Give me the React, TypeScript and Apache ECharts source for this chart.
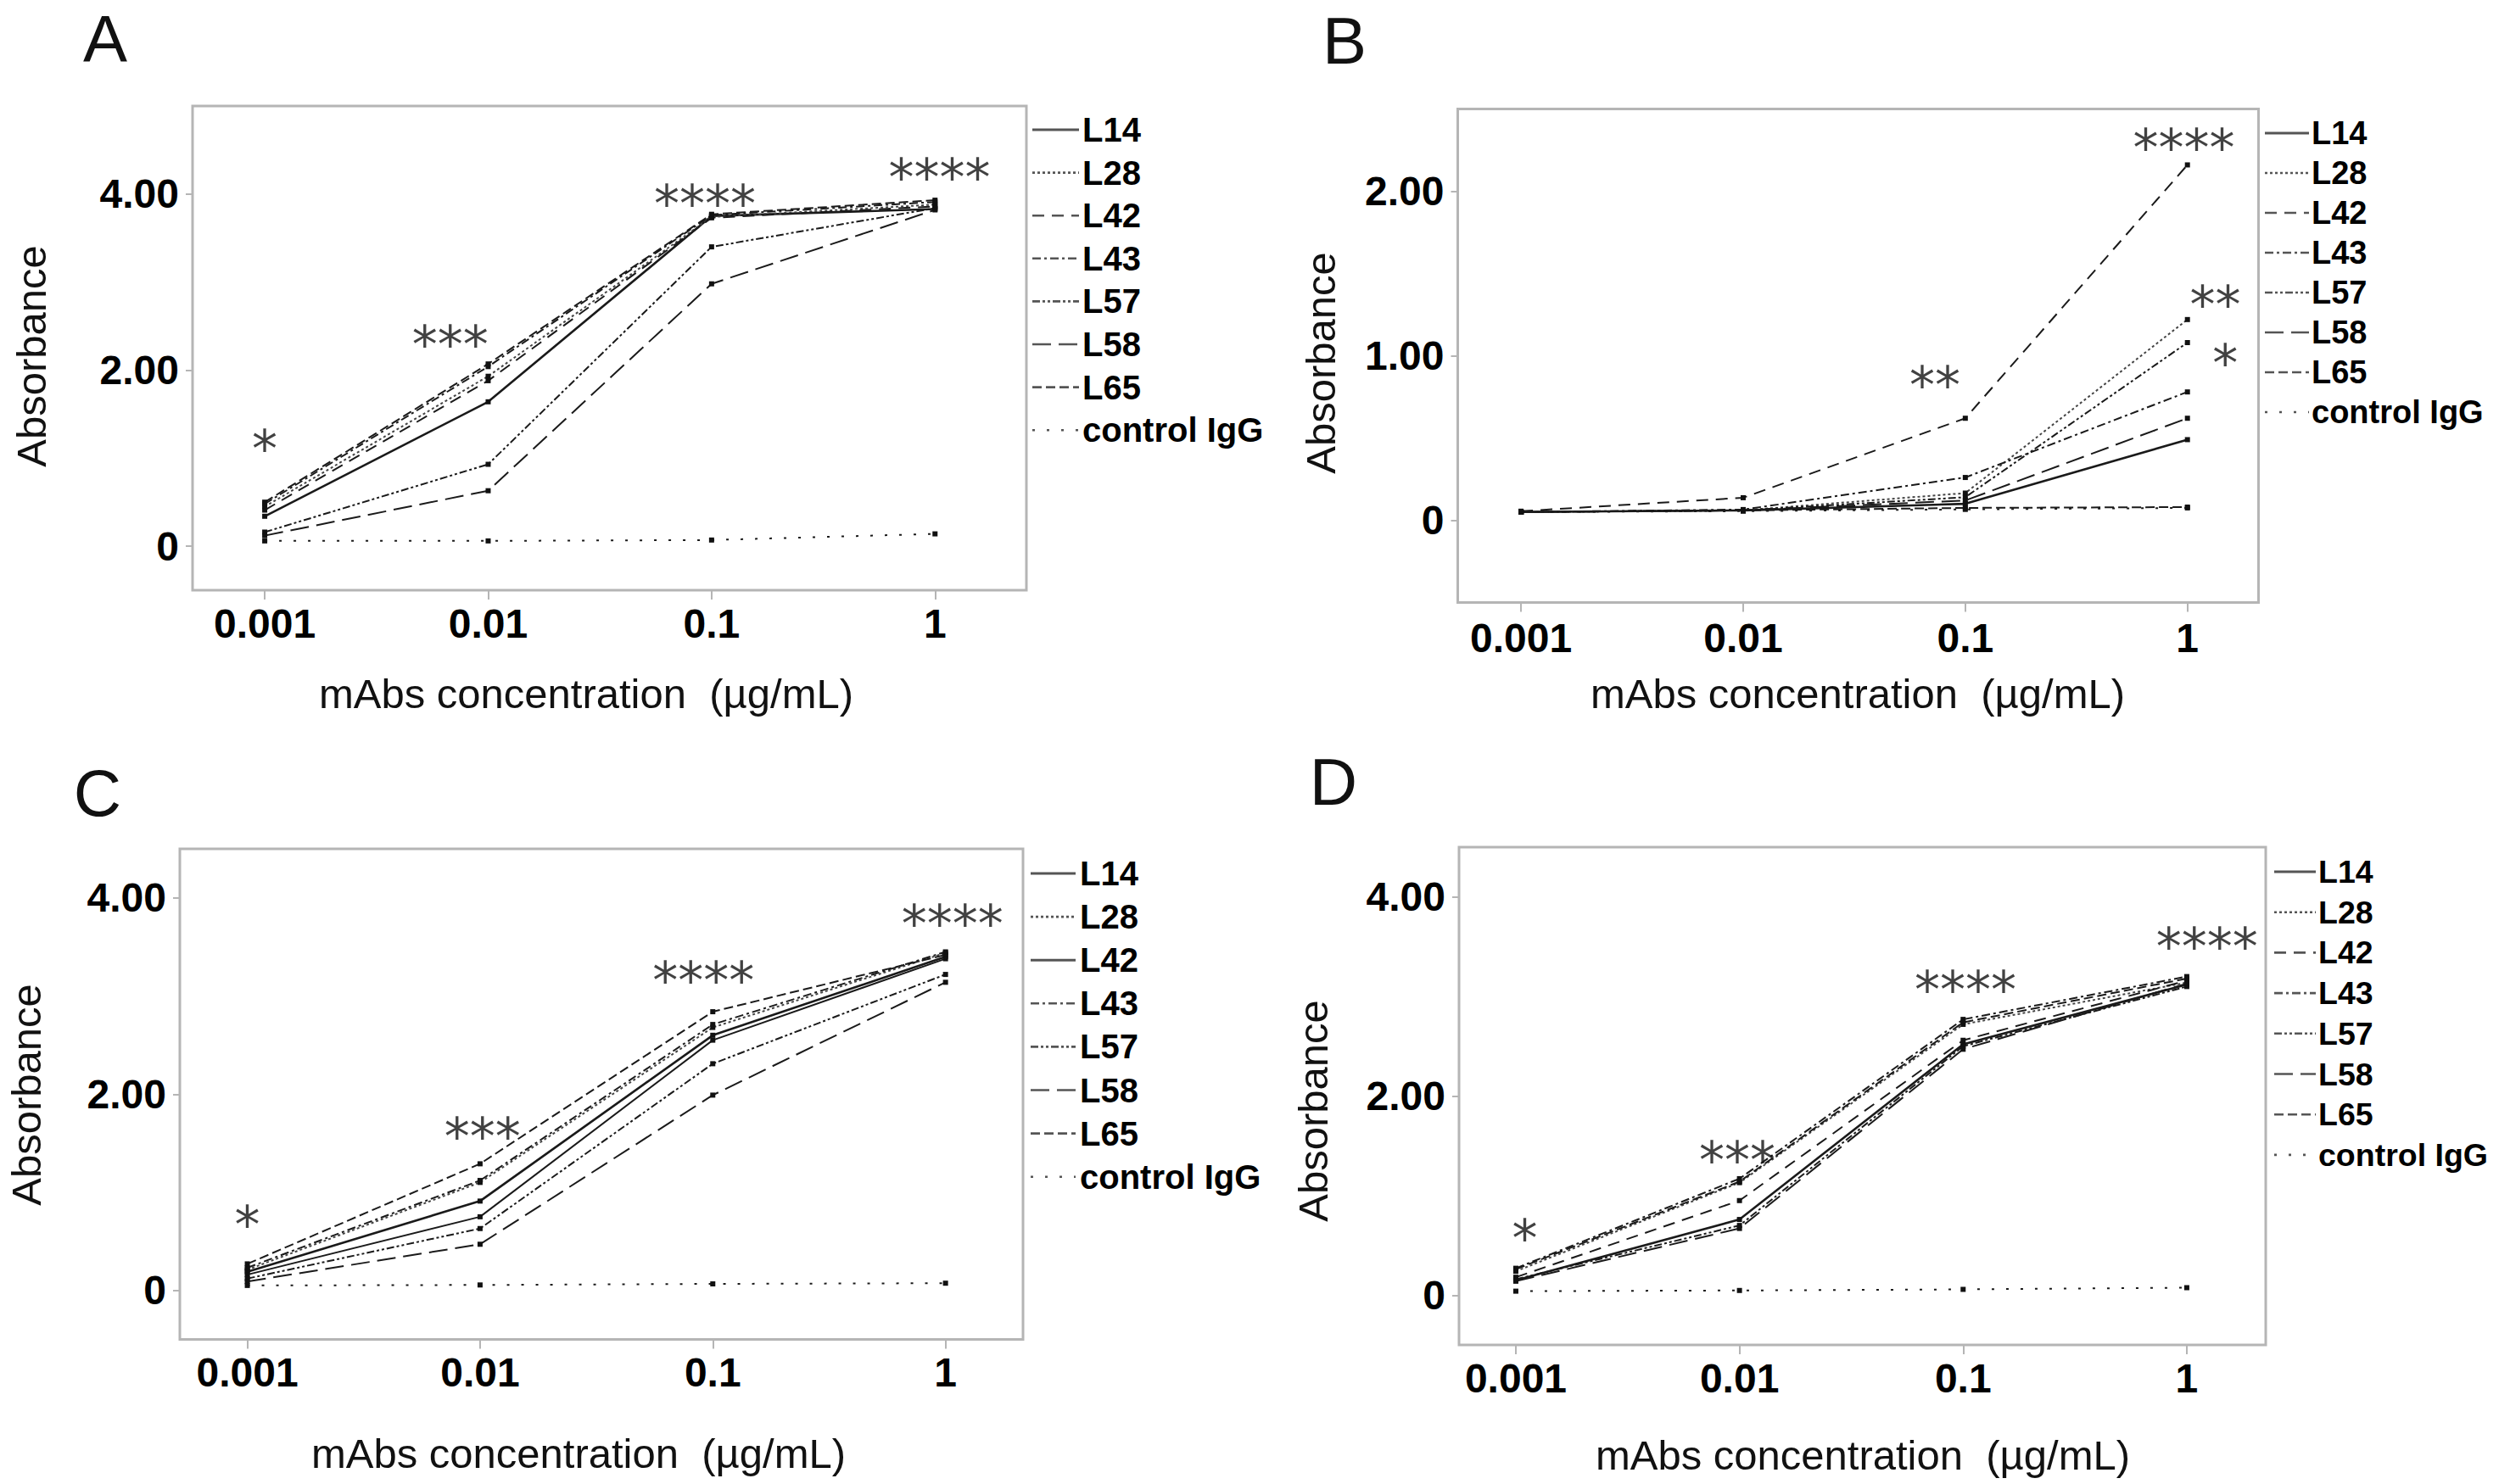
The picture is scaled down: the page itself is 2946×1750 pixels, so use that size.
import React, { useEffect, useRef } from "react";
import * as echarts from "echarts";

// ---------- data ----------
const concentrations = [0.001, 0.01, 0.1, 1];
const xTickLabels = ["0.001", "0.01", "0.1", "1"];
const seriesNames = ["L14", "L28", "L42", "L43", "L57", "L58", "L65", "control IgG"];

// rows follow seriesNames order; columns follow concentrations
const valuesA = [
  [0.34, 1.64, 3.75, 3.83],
  [0.45, 1.93, 3.74, 3.88],
  [0.41, 1.88, 3.73, 3.86],
  [0.48, 2.04, 3.76, 3.91],
  [0.16, 0.93, 3.4, 3.84],
  [0.12, 0.63, 2.98, 3.82],
  [0.5, 2.07, 3.77, 3.93],
  [0.06, 0.06, 0.07, 0.14],
];
const valuesB = [
  [0.05, 0.06, 0.1, 0.49],
  [0.05, 0.06, 0.165, 1.22],
  [0.055, 0.137, 0.62, 2.16],
  [0.05, 0.065, 0.26, 0.78],
  [0.05, 0.06, 0.14, 1.08],
  [0.05, 0.06, 0.12, 0.62],
  [0.05, 0.06, 0.075, 0.08],
  [0.05, 0.055, 0.066, 0.075],
];
const valuesC = [
  [0.19, 0.91, 2.6, 3.4],
  [0.21, 1.1, 2.68, 3.44],
  [0.16, 0.75, 2.55, 3.38],
  [0.23, 1.12, 2.71, 3.45],
  [0.12, 0.63, 2.31, 3.22],
  [0.09, 0.47, 1.99, 3.14],
  [0.27, 1.29, 2.84, 3.42],
  [0.05, 0.055, 0.066, 0.073],
];
const valuesD = [
  [0.15, 0.76, 2.52, 3.12],
  [0.24, 1.13, 2.72, 3.14],
  [0.18, 0.95, 2.56, 3.16],
  [0.27, 1.17, 2.77, 3.2],
  [0.16, 0.7, 2.5, 3.1],
  [0.14, 0.67, 2.47, 3.13],
  [0.26, 1.14, 2.74, 3.18],
  [0.04, 0.047, 0.058, 0.075],
];

const yTicksA = [0, 2, 4];
const yTicksB = [0, 1, 2];
const yTicksC = [0, 2, 4];
const yTicksD = [0, 2, 4];

// significance marks: [log10 position, absorbance, text]
const annotA: [number, number, string][] = [
  [-3.0, 1.24, "*"],
  [-2.17, 2.43, "***"],
  [-1.03, 4.03, "****"],
  [0.02, 4.33, "****"],
];
const annotB: [number, number, string][] = [
  [-1.137, 0.896, "**"],
  [-0.016, 2.34, "****"],
  [0.125, 1.385, "**"],
  [0.17, 1.03, "*"],
];
const annotC: [number, number, string][] = [
  [-3.0, 0.79, "*"],
  [-1.99, 1.69, "***"],
  [-1.04, 3.28, "****"],
  [0.03, 3.86, "****"],
];
const annotD: [number, number, string][] = [
  [-2.96, 0.69, "*"],
  [-2.01, 1.48, "***"],
  [-0.99, 3.19, "****"],
  [0.09, 3.62, "****"],
];

// ---------- styles ----------
type Dash = "solid" | number[];
const dashDefault: Dash[] = [
  "solid",
  [3, 3],
  [14, 9],
  [10, 4, 3, 4],
  [9, 3, 3, 3, 3, 3],
  [22, 9],
  [11, 5],
  [3, 14],
];
const dashC: Dash[] = [
  "solid",
  [3, 3],
  "solid",
  [10, 4, 3, 4],
  [9, 3, 3, 3, 3, 3],
  [22, 9],
  [11, 5],
  [3, 14],
];
const widths = [2.6, 2, 2, 2, 2, 2, 2, 2];

const FONT = '"Liberation Sans", Arial, sans-serif';

const panels = [
  {
    letter: "A",
    grid: { left: 227, top: 125, width: 983, height: 571 },
    xMin: -3.323, xMax: 0.409, yMin: -0.5, yMax: 5,
    yTicks: yTicksA, values: valuesA, annots: annotA, dashes: dashDefault,
    legend: { x0: 1217, x1: 1272, tx: 1276, y0: 153, pitch: 50.6, fs: 40 },
    letterPos: [124, 46], yTitle: [37, 420], xTitle: [691, 818], xMargin: 15,
  },
  {
    letter: "B",
    grid: { left: 1718.5, top: 128.5, width: 944, height: 582 },
    xMin: -3.285, xMax: 0.32, yMin: -0.5, yMax: 2.5,
    yTicks: yTicksB, values: valuesB, annots: annotB, dashes: dashDefault,
    legend: { x0: 2670, x1: 2722, tx: 2725, y0: 157, pitch: 47, fs: 38 },
    letterPos: [1585, 48], yTitle: [1557, 428], xTitle: [2190, 818], xMargin: 18,
  },
  {
    letter: "C",
    grid: { left: 212, top: 1001, width: 994, height: 578.5 },
    xMin: -3.29, xMax: 0.333, yMin: -0.5, yMax: 4.5,
    yTicks: yTicksC, values: valuesC, annots: annotC, dashes: dashC,
    legend: { x0: 1215, x1: 1268, tx: 1273, y0: 1030, pitch: 51.1, fs: 40 },
    letterPos: [115, 935], yTitle: [31, 1291], xTitle: [682, 1714], xMargin: 15,
  },
  {
    letter: "D",
    grid: { left: 1720, top: 999, width: 951, height: 587 },
    xMin: -3.254, xMax: 0.353, yMin: -0.5, yMax: 4.5,
    yTicks: yTicksD, values: valuesD, annots: annotD, dashes: dashDefault,
    legend: { x0: 2681, x1: 2730, tx: 2733, y0: 1028, pitch: 47.7, fs: 37.5 },
    letterPos: [1572, 922], yTitle: [1548, 1310], xTitle: [2196, 1716], xMargin: 15,
  },
];

const xLabel = (v: number) => {
  const i = concentrations.findIndex((c) => Math.abs(Math.log10(c) - v) < 1e-6);
  return i >= 0 ? xTickLabels[i] : "";
};

function buildOption() {
  const grid: any[] = [];
  const xAxis: any[] = [];
  const yAxis: any[] = [];
  const series: any[] = [];
  const graphic: any[] = [];
  const xTickVals = concentrations.map((c) => Math.log10(c));

  panels.forEach((p, gi) => {
    grid.push({
      ...p.grid,
      show: true,
      borderColor: "#b5b5b5",
      borderWidth: 3,
      backgroundColor: "transparent",
    });
    xAxis.push({
      type: "value",
      gridIndex: gi,
      min: p.xMin,
      max: p.xMax,
      axisLine: { show: false, onZero: false },
      splitLine: { show: false },
      axisTick: {
        show: true,
        customValues: xTickVals,
        length: 11,
        lineStyle: { color: "#b5b5b5", width: 2 },
      },
      axisLabel: {
        customValues: xTickVals,
        formatter: xLabel,
        margin: p.xMargin,
        fontFamily: FONT,
        fontWeight: "bold",
        fontSize: 48,
        color: "#000",
      },
    });
    yAxis.push({
      type: "value",
      gridIndex: gi,
      min: p.yMin,
      max: p.yMax,
      axisLine: { show: false, onZero: false },
      splitLine: { show: false },
      axisTick: {
        show: true,
        customValues: p.yTicks,
        length: 8,
        lineStyle: { color: "#b5b5b5", width: 2 },
      },
      axisLabel: {
        customValues: p.yTicks,
        formatter: (v: number) => (v === 0 ? "0" : v.toFixed(2)),
        margin: 16,
        fontFamily: FONT,
        fontWeight: "bold",
        fontSize: 48,
        color: "#000",
      },
    });

    p.values.forEach((vals, si) => {
      const dash = p.dashes[si];
      series.push({
        type: "line",
        name: seriesNames[si],
        xAxisIndex: gi,
        yAxisIndex: gi,
        data: concentrations.map((c, k) => [Math.log10(c), vals[k]]),
        symbol: "rect",
        symbolSize: 6,
        itemStyle: { color: "#111" },
        lineStyle: {
          color: si === 1 ? "#444" : "#1a1a1a",
          width: widths[si],
          type: dash,
        },
        silent: true,
        z: 3,
      });
    });

    series.push({
      type: "scatter",
      xAxisIndex: gi,
      yAxisIndex: gi,
      data: p.annots.map((a) => ({ value: [a[0], a[1]], name: a[2] })),
      symbol: "circle",
      symbolSize: 1,
      itemStyle: { color: "rgba(0,0,0,0)" },
      silent: true,
      z: 5,
      label: {
        show: true,
        position: "inside",
        formatter: (d: any) => d.name,
        fontFamily: '"DejaVu Sans", sans-serif',
        fontSize: 60,
        color: "#111",
        offset: [0, 14],
      },
    });

    // panel letter
    graphic.push({
      type: "text",
      x: p.letterPos[0],
      y: p.letterPos[1],
      style: {
        text: p.letter,
        fontFamily: FONT,
        fontSize: 78,
        fill: "#111",
        align: "center",
        verticalAlign: "middle",
      },
    });
    // y title
    graphic.push({
      type: "text",
      x: p.yTitle[0],
      y: p.yTitle[1],
      rotation: Math.PI / 2,
      style: {
        text: "Absorbance",
        fontFamily: FONT,
        fontSize: 49,
        fill: "#111",
        align: "center",
        verticalAlign: "middle",
      },
    });
    // x title
    graphic.push({
      type: "text",
      x: p.xTitle[0],
      y: p.xTitle[1],
      style: {
        text: "mAbs concentration  (µg/mL)",
        fontFamily: FONT,
        fontSize: 49,
        fill: "#111",
        align: "center",
        verticalAlign: "middle",
      },
    });
    // legend
    seriesNames.forEach((nm, si) => {
      const y = p.legend.y0 + si * p.legend.pitch;
      const dash = p.dashes[si];
      graphic.push({
        type: "line",
        shape: { x1: p.legend.x0, y1: y, x2: p.legend.x1, y2: y },
        style: {
          stroke: "#555",
          lineWidth: si === 0 || dash === "solid" ? 3 : 2.6,
          lineDash: dash === "solid" ? null : dash,
        },
      });
      graphic.push({
        type: "text",
        x: p.legend.tx,
        y: y,
        style: {
          text: nm,
          fontFamily: FONT,
          fontWeight: "bold",
          fontSize: p.legend.fs,
          fill: "#000",
          align: "left",
          verticalAlign: "middle",
        },
      });
    });
  });

  return {
    animation: false,
    backgroundColor: "#fff",
    grid,
    xAxis,
    yAxis,
    series,
    graphic,
  };
}

export default function App() {
  const ref = useRef<HTMLDivElement>(null);
  useEffect(() => {
    if (!ref.current) return;
    const chart = echarts.init(ref.current, undefined, { renderer: "svg" });
    chart.setOption(buildOption());
    return () => chart.dispose();
  }, []);
  return (
    <div
      ref={ref}
      style={{ position: "fixed", left: 0, top: 0, width: 2946, height: 1750, background: "#fff" }}
    />
  );
}
